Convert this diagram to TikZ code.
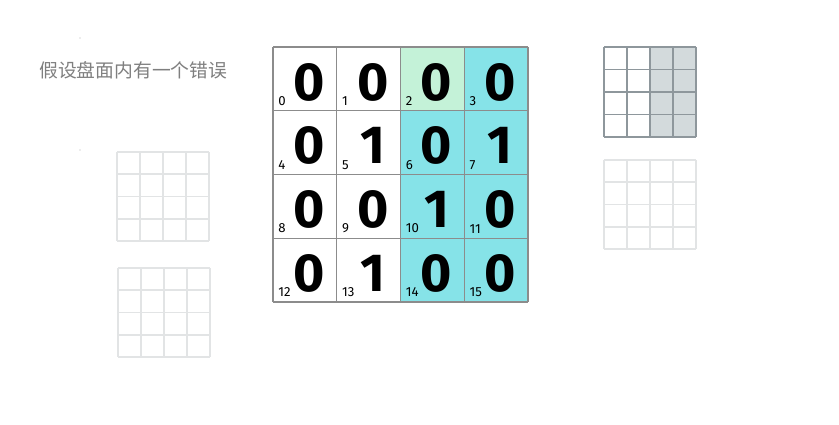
\documentclass[tikz,border=0pt]{standalone}
\usepackage{fontspec}
\usepackage{xcolor}
\newfontfamily\cjk{Noto Sans CJK SC}
\newfontfamily\digitfont{Fira Sans}
\definecolor{tipgray}{HTML}{7F7F7F}
\definecolor{cellgreen}{HTML}{C4F2D8}
\definecolor{cellcyan}{HTML}{86E3E8}
\definecolor{gridline}{HTML}{8C8C8C}
\definecolor{minigray}{HTML}{D3DADC}
\definecolor{miniline}{HTML}{8E979C}
\definecolor{faintline}{HTML}{E2E4E5}

\begin{document}
\begin{tikzpicture}[x=0.02cm,y=-0.02cm,
    bigdigit/.style={inner sep=0,font=\digitfont\bfseries\fontsize{30.5}{31}\selectfont},
    idx/.style={inner sep=0,anchor=south west,font=\digitfont\fontsize{7.5}{8}\selectfont},
    board/.style={draw=gridline,line width=0.6pt},
    minigrid/.style={draw=miniline,line width=0.7pt},
    fainttable/.style={draw=faintline,line width=1pt}]
    \useasboundingbox (0,0) rectangle (839,424);

    % title and the two stray dots
    \node[anchor=west,text=tipgray,font=\cjk\fontsize{10.7}{13}\selectfont](title) at (33,70) {假设盘面内有一个错误};
    \fill[tipgray!60] (80,38) circle (0.6);
    \fill[tipgray!60] (80,150) circle (0.6);

    % main board
    \fill[cellgreen] (400,47) rectangle (464,111);
    \fill[cellcyan] (464,47) rectangle (528,111);
    \fill[cellcyan] (400,111) rectangle (528,302);
    \foreach \k in {0,...,4} {
        \draw[board] ({273+63.75*\k},47) -- ({273+63.75*\k},302);
        \draw[board] (273,{47+63.75*\k}) -- (528,{47+63.75*\k});
    }
    \foreach \v [count=\n from 0] in {0,0,0,0, 0,1,0,1, 0,0,1,0, 0,1,0,0} {
        \pgfmathtruncatemacro{\c}{mod(\n,4)}
        \pgfmathtruncatemacro{\r}{div(\n,4)}
        \node[bigdigit](d\n) at ({273+63.75*\c+36},{47+63.75*\r+35}) {\v};
        \node[idx](i\n) at ({273+63.75*\c+5},{47+63.75*\r+59}) {\n};
    }

    % top right: small board with two shaded columns
    \fill[minigray] (650,47) rectangle (696,137);
    \foreach \k in {0,...,4} {
        \draw[minigrid] ({604+23*\k},47) -- ({604+23*\k},137);
        \draw[minigrid] (604,{47+22.5*\k}) -- (696,{47+22.5*\k});
    }

    % faint empty boards
    \foreach \px/\py in {604/160, 117/152, 118/268} {
        \foreach \k in {0,...,4} {
            \draw[fainttable] ({\px+23*\k},\py) -- ({\px+23*\k},{\py+89});
            \draw[fainttable] (\px,{\py+22.25*\k}) -- ({\px+92},{\py+22.25*\k});
        }
    }
\end{tikzpicture}
\end{document}
